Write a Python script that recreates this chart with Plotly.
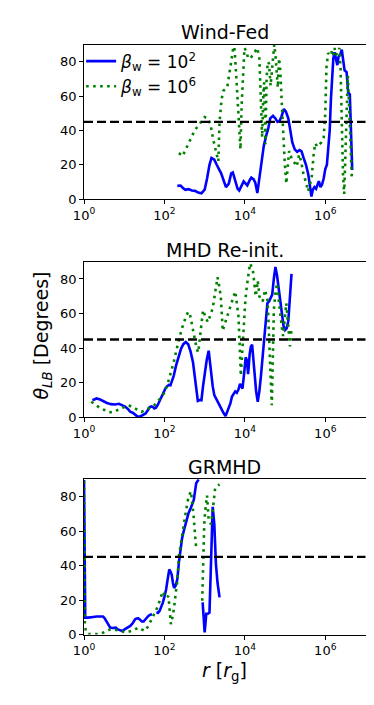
import numpy as np
import plotly.graph_objects as go

# log10(r / r_g) and theta_LB [deg]
wind_b2_logr = [2.32, 2.40, 2.46, 2.52, 2.60, 2.68, 2.76, 2.84, 2.92, 3.00, 3.06, 3.12, 3.17, 3.24, 3.30,
                3.41, 3.47, 3.53, 3.60, 3.66, 3.70, 3.76, 3.82, 3.86, 3.92, 3.97, 4.02, 4.06, 4.12, 4.16,
                4.22, 4.26, 4.31, 4.36, 4.42, 4.47, 4.53, 4.58, 4.63, 4.70, 4.76, 4.81, 4.86, 4.91, 4.97,
                5.02, 5.08, 5.13, 5.18, 5.24, 5.30, 5.36, 5.41, 5.46, 5.52, 5.58, 5.63, 5.655, 5.69, 5.73,
                5.77, 5.81, 5.84, 5.88, 5.92, 5.96, 6.00, 6.04, 6.08, 6.11, 6.14, 6.17, 6.20, 6.23, 6.27,
                6.30, 6.33, 6.37, 6.41, 6.44, 6.48, 6.53, 6.57, 6.61, 6.64, 6.67]
wind_b2_theta = [7.7, 7.9, 6.5, 5.4, 5.8, 5.0, 4.8, 3.8, 3.4, 5.5, 12, 20, 24, 23, 20,
                 15, 11, 7, 9, 15, 15.5, 10, 6, 5, 8, 10.3, 9, 8, 11, 12.5,
                 11.5, 9.5, 3.5, 12, 22, 31, 37, 41, 47, 48.5, 47, 45, 45.5, 48, 52.5,
                 51, 47, 40, 33, 29, 27.5, 28.5, 27.8, 24, 20, 14, 6, 1.5, 5.5, 7,
                 6, 9, 10.5, 7, 8.5, 12, 17.5, 20, 33, 40, 58, 74, 82, 85.5, 80,
                 78, 83, 84, 87, 80, 75, 74, 62, 61, 40, 17]

wind_b6_logr = [2.36, 2.45, 2.55, 2.64, 2.75, 2.88, 3.00, 3.08, 3.14, 3.22, 3.30, 3.34, 3.37, 3.42, 3.46,
                3.56, 3.64, 3.69, 3.73, 3.76, 3.81, 3.86, 3.89, 3.92, 3.96, 3.99, 4.04, 4.08, 4.14, 4.20,
                4.26, 4.31, 4.36, 4.40, 4.43, 4.46, 4.48, 4.51, 4.54, 4.57, 4.60, 4.64, 4.67, 4.70, 4.73,
                4.76, 4.79, 4.82, 4.85, 4.88, 4.92, 4.95, 4.99, 5.03, 5.07, 5.10, 5.16, 5.23, 5.29, 5.35,
                5.40, 5.46, 5.52, 5.57, 5.62, 5.66, 5.71, 5.75, 5.80, 5.85, 5.90, 5.96, 6.00, 6.03, 6.07,
                6.11, 6.15, 6.19, 6.23, 6.27, 6.31, 6.35, 6.38, 6.41, 6.44, 6.47, 6.51, 6.56, 6.60, 6.66]
wind_b6_theta = [26.8, 25, 30, 34.5, 40, 44, 47.8, 47, 44, 34, 25, 22, 45, 58, 63,
                 65, 77, 84, 91, 82, 64, 40, 29, 55, 78, 88, 86, 82, 82, 84,
                 86, 88, 82, 60, 36, 62, 68, 32, 70, 80, 79, 66, 75, 80, 90,
                 84, 72, 65, 82, 75, 55, 38, 22, 9, 20, 28, 24, 21, 19, 26,
                 22, 14, 10, 4.5, 8, 12, 26, 32.5, 30.5, 32, 33, 36, 50, 77, 85,
                 84, 86, 83, 88, 84, 86, 88, 76, 45, 15, 3, 40, 72, 50, 12]

mhd_b2_logr = [0.21, 0.31, 0.40, 0.47, 0.57, 0.67, 0.77, 0.87, 0.95, 1.03, 1.10, 1.15, 1.22, 1.28, 1.33,
               1.40, 1.47, 1.53, 1.59, 1.63, 1.67, 1.71, 1.75, 1.79, 1.83, 1.87, 1.91, 1.95, 1.99, 2.03,
               2.07, 2.11, 2.15, 2.19, 2.23, 2.29, 2.35, 2.41, 2.47, 2.53, 2.59, 2.65, 2.71, 2.76, 2.80,
               2.83, 2.88, 2.92, 2.96, 3.00, 3.05, 3.10, 3.13, 3.16, 3.20, 3.24, 3.30, 3.36, 3.42, 3.47,
               3.52, 3.58, 3.64, 3.68, 3.72, 3.76, 3.80, 3.84, 3.88, 3.91, 3.94, 3.98, 4.02, 4.05, 4.08,
               4.12, 4.15, 4.18, 4.20, 4.22, 4.25, 4.28, 4.32, 4.36, 4.40, 4.44, 4.48, 4.52, 4.56, 4.60,
               4.64, 4.68, 4.72, 4.76, 4.80, 4.84, 4.88, 4.92, 4.96, 5.00, 5.04, 5.08, 5.12, 5.16]
mhd_b2_theta = [9.9, 10.9, 10.3, 9.3, 8.3, 7.6, 7.4, 7.8, 7.0, 6.1, 4.6, 3.2, 2.5, 1.5, 0.4,
                0.5, 1.3, 2.2, 4.2, 5.8, 6.3, 6.0, 5.1, 5.5, 7, 9, 11.8, 14, 15.6, 17,
                18, 18.7, 18.5, 21, 24, 30, 35.6, 39.5, 42.3, 43.5, 42.3, 38, 31.8, 22, 12,
                9.5, 10, 9.9, 18, 26, 33, 38.5, 32, 23, 18, 12.8, 10, 8, 5, 2.5,
                0.8, 4, 8, 12, 13.7, 15, 14.2, 16, 19.4, 18, 16.6, 25, 34.7, 33, 25,
                36.6, 41, 42, 36, 29, 22, 15, 9, 15, 24, 35, 45, 60, 66, 67,
                69, 71, 80, 87, 82, 74.7, 65, 57.5, 53, 50.5, 51.5, 55.6, 68, 83]

mhd_b6_logr = [0.18, 0.31, 0.42, 0.51, 0.61, 0.71, 0.80, 0.87, 1.00, 1.11, 1.19, 1.27, 1.35, 1.43, 1.51,
               1.59, 1.67, 1.75, 1.83, 1.91, 1.99, 2.07, 2.15, 2.23, 2.33, 2.43, 2.53, 2.59, 2.63, 2.67,
               2.71, 2.76, 2.80, 2.84, 2.90, 2.96, 3.02, 3.08, 3.14, 3.20, 3.26, 3.32, 3.36, 3.40, 3.43,
               3.45, 3.50, 3.56, 3.62, 3.68, 3.72, 3.76, 3.80, 3.84, 3.87, 3.90, 3.93, 3.96, 4.01, 4.05,
               4.08, 4.11, 4.14, 4.17, 4.20, 4.23, 4.27, 4.30, 4.32, 4.34, 4.36, 4.40, 4.44, 4.47, 4.50,
               4.53, 4.56, 4.58, 4.60, 4.63, 4.67, 4.70, 4.72, 4.76, 4.80, 4.84, 4.88, 4.92, 4.95, 4.99,
               5.03, 5.06, 5.08, 5.10, 5.12, 5.14, 5.16]
mhd_b6_theta = [9, 7, 5, 4.2, 3, 2.9, 3.8, 4.8, 6, 7, 6, 5.1, 4, 3.2, 4,
                5.1, 6, 7, 9, 11.8, 14, 18.5, 25, 31.8, 42, 51, 58, 61, 60, 55,
                51, 45, 40, 37.5, 50, 62, 58, 55, 59, 63, 72, 81, 76, 70, 58,
                50, 54, 58.5, 63, 68, 71, 72.8, 66, 58.5, 42, 24, 36, 49, 67, 76,
                83, 86, 89, 86, 85, 78, 70, 75, 79, 75, 70, 68, 67, 70, 73.7,
                71, 68, 60, 51, 30, 7, 35, 62, 72, 77.5, 68, 58.5, 52, 47, 55,
                66, 58, 51, 45, 41, 46, 51]

# None = gap in the curve
gr_b2_logr = [0.00, 0.03, 0.10, 0.15, 0.23, 0.31, 0.39, 0.47, 0.51, 0.55, 0.60, 0.65, 0.70, 0.75, 0.79,
              0.83, 0.88, 0.94, 0.98, 1.03, 1.09, 1.15, 1.21, 1.27, 1.31, 1.35, 1.40, 1.44, 1.48, 1.54,
              1.60, 1.65, 1.69, 1.74, 1.80, 1.84, 1.88, 1.92, 1.96, 2.00, 2.04, 2.08, 2.12, 2.15, 2.18,
              2.21, 2.24, 2.28, 2.32, 2.36, 2.40, 2.44, 2.48, 2.52, 2.56, 2.60, 2.65, 2.69, 2.73, 2.76,
              2.79, 2.85, 2.90, 2.95, 3.00, 3.04, 3.08, 3.12, 3.16, 3.20, 3.24, 3.28, 3.32, 3.37]
gr_b2_theta = [89.6, 9.8, 9.8, 9.8, 10.2, 10.4, 10.5, 10.4, 9.5, 7.9, 5.5, 4, 3.8, 3.8, 4,
               3.1, 2.8, 2.1, 2.5, 3.1, 4, 5, 6.5, 8.8, 9.3, 9.4, 8.5, 7.5, 7.5, 9.5,
               10.8, 11.5, 11.7, None, 13, 12.5, 13.7, 16, 18.5, 22, 26, 32, 37.7, 36.5, 34.8,
               30, 27, 28.5, 32, 42, 51, 56, 60, 64, 67.5, 70.5, 73, 75.5, 78, 83,
               87.7, 90, None, 18.6, 1.2, 12, 12, 12.7, 45, 74, 64, 41, 30, 21.5]

gr_b6_logr = [0.00, 0.01, 0.02, 0.05, 0.12, 0.19, 0.30, 0.39, 0.47, 0.55, 0.63, 0.71, 0.79, 0.87, 0.95,
              1.03, 1.11, 1.19, 1.27, 1.35, 1.43, 1.52, 1.60, 1.68, 1.76, 1.84, 1.90, 1.96, 2.00, 2.04,
              2.10, 2.13, 2.16, 2.20, 2.24, 2.28, 2.32, 2.36, 2.40, 2.44, 2.48, 2.52, 2.56, 2.60, 2.66,
              2.70, 2.73, 2.76, 2.79, 2.86, 2.94, 2.97, 2.99, 3.02, 3.06, 3.10, 3.16, 3.22, 3.26, 3.30,
              3.37]
gr_b6_theta = [89, 30, 6, 1.2, 0.3, 0.2, 0.2, 0.2, 1, 2.1, 2.8, 3.1, 2.8, 2.5, 1.8,
               1.2, 1.5, 2.1, 3, 4, 3, 2.1, 5, 8.8, 12.5, 16.5, 21, 25, 23, 21.3,
               22.3, 14, 6, 10, 15.6, 24, 31, 45.4, 52, 58, 64, 69.4, 75, 80, 83,
               76, 67.5, 58, 50, None, 19.6, 45, 64, 73, 80.6, 66, 64, 76, 84.7, 86,
               87]

panel_titles = ['Wind-Fed', 'MHD Re-init.', 'GRMHD']
x_tickvals = [1, 1e2, 1e4, 1e6]
x_ticktext = ['10<sup>0</sup>', '10<sup>2</sup>', '10<sup>4</sup>', '10<sup>6</sup>']
y_tickvals = [0, 20, 40, 60, 80]

FONT = 'DejaVu Sans'
BLUE = '#0000ff'
GREEN = '#008000'

panels = [
    (wind_b2_logr, wind_b2_theta, wind_b6_logr, wind_b6_theta),
    (mhd_b2_logr, mhd_b2_theta, mhd_b6_logr, mhd_b6_theta),
    (gr_b2_logr, gr_b2_theta, gr_b6_logr, gr_b6_theta),
]

W, H = 374, 705
x_dom = [67 / W, 357 / W]
y_doms = [[1 - 193.3 / H, 1 - 37 / H],
          [1 - 414 / H, 1 - 256.6 / H],
          [1 - 633.7 / H, 1 - 476.7 / H]]

fig = go.Figure()

for i, (b2x, b2y, b6x, b6y) in enumerate(panels):
    sfx = '' if i == 0 else str(i + 1)
    fig.add_trace(go.Scatter(
        x=10 ** np.array(b2x), y=b2y, mode='lines',
        line=dict(color=BLUE, width=2.6),
        name='<i>β</i><sub>w</sub> = 10<sup>2</sup>', showlegend=(i == 0),
        xaxis='x' + sfx, yaxis='y' + sfx, connectgaps=False))
    fig.add_trace(go.Scatter(
        x=10 ** np.array(b6x), y=b6y, mode='lines',
        line=dict(color=GREEN, width=2.6, dash='2.6px,4.4px'),
        name='<i>β</i><sub>w</sub> = 10<sup>6</sup>', showlegend=(i == 0),
        xaxis='x' + sfx, yaxis='y' + sfx, connectgaps=False))
    fig.add_shape(type='line', xref='x' + sfx + ' domain', yref='y' + sfx,
                  x0=0, x1=1, y0=45, y1=45,
                  line=dict(color='black', width=2.4, dash='9px,4px'))

    axis_common = dict(showline=True, mirror=True, linecolor='black', linewidth=1,
                       ticks='outside', ticklen=4, tickwidth=1, tickcolor='black',
                       showgrid=False, zeroline=False,
                       tickfont=dict(family=FONT, size=13, color='black'))
    fig.update_layout({
        'xaxis' + sfx: dict(type='log', range=[0, 7], domain=x_dom, anchor='y' + sfx,
                            tickvals=x_tickvals, ticktext=x_ticktext, **axis_common),
        'yaxis' + sfx: dict(range=[0, 90], domain=y_doms[i], anchor='x' + sfx,
                            tickvals=y_tickvals, **axis_common),
    })

title_y = [1 - 24.5 / H, 1 - 244.5 / H, 1 - 464.5 / H]
for t, ty in zip(panel_titles, title_y):
    fig.add_annotation(text=t, xref='paper', yref='paper', x=sum(x_dom) / 2, y=ty,
                       showarrow=False, xanchor='center', yanchor='middle',
                       font=dict(family=FONT, size=19, color='black'))

fig.add_annotation(text='<i>θ</i><sub><i>LB</i></sub> [Degrees]', xref='paper', yref='paper',
                   x=24 / W, y=1 - 331 / H, textangle=-90, showarrow=False,
                   xanchor='center', yanchor='middle',
                   font=dict(family=FONT, size=19, color='black'))
fig.add_annotation(text='<i>r</i> [<i>r</i><sub>g</sub>]', xref='paper', yref='paper',
                   x=sum(x_dom) / 2, y=1 - 671 / H, showarrow=False,
                   xanchor='center', yanchor='middle',
                   font=dict(family=FONT, size=19, color='black'))

fig.update_layout(
    width=W, height=H,
    margin=dict(l=0, r=0, t=0, b=0),
    paper_bgcolor='white', plot_bgcolor='white',
    font=dict(family=FONT, color='black'),
    legend=dict(x=64 / W, y=1 - 36 / H, xanchor='left', yanchor='top',
                bgcolor='rgba(0,0,0,0)', font=dict(family=FONT, size=17, color='black'),
                tracegroupgap=0, itemwidth=30),
)

fig.write_html('out.html')
